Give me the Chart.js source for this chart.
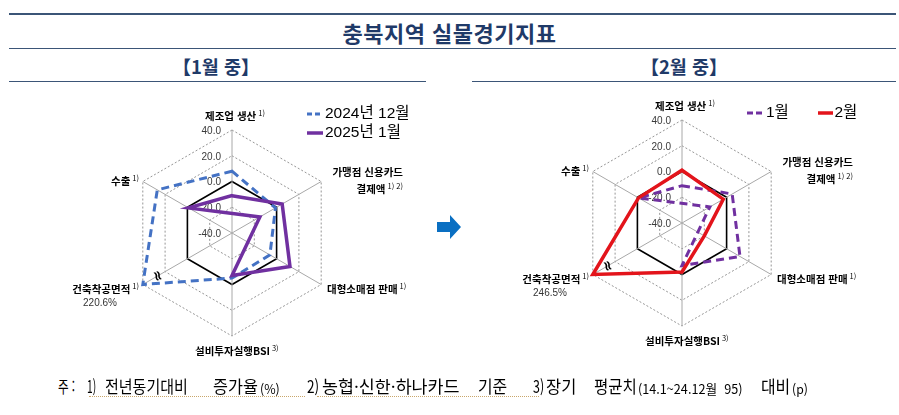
<!DOCTYPE html>
<html lang="ko">
<head>
  <meta charset="UTF-8">
  <title>충북지역 실물경기지표</title>
  <script src="https://cdn.jsdelivr.net/npm/chart.js"></script>
  <style>
    body { margin: 0; background: #fff; }
    .page {
      position: relative;
      width: 899px;
      height: 415px;
      overflow: hidden;
      font-family: 'Noto Sans CJK KR', 'Noto Sans', sans-serif;
      color: #000;
    }
    .rule { position: absolute; height: 0; border-top: 1.5px solid #3b5577; }
    .title {
      position: absolute; left: 0; width: 899px; top: 17px;
      text-align: center; font-size: 22px; font-weight: 700;
      color: #1f3a68; line-height: 30px; letter-spacing: 0.5px;
    }
    .sub {
      position: absolute; top: 53px; font-size: 18.5px; font-weight: 700;
      color: #1f3a68; line-height: 26px; transform: translateX(-50%);
      white-space: nowrap;
    }
    canvas { position: absolute; }
    .lbl {
      position: absolute; font-size: 10.5px; font-weight: 700;
      line-height: 17px; white-space: nowrap; z-index: 2;
    }
    .lbl.right { text-align: right; }
    .lbl sup { font-size: 7.5px; font-weight: 400; vertical-align: 4px; line-height: 0; margin-left: 2px; }
    .big {
      position: absolute; font-size: 10px; line-height: 14px; color: #333;
      font-family: 'Liberation Sans', sans-serif; transform: translateX(-50%); z-index: 2;
    }
    .legend {
      position: absolute; font-family: 'Liberation Sans', 'Noto Sans CJK KR', sans-serif;
      font-size: 15.5px; line-height: 19px; white-space: nowrap; z-index: 2;
    }
    .legend svg { vertical-align: middle; margin-right: 2px; }
    .arrow { position: absolute; left: 436px; top: 214px; }
    .foot {
      position: absolute; top: 374px; font-size: 17px; line-height: 24px;
      white-space: pre; transform-origin: left center;
    }
    .foot.small { font-size: 13px; top: 377px; }
    .uline { position: absolute; top: 396px; height: 0; border-top: 1.5px dotted #c9a66b; }
  </style>
</head>
<body>
  <div class="page" id="page">
    <div class="rule" style="left:9px; width:887px; top:13px; border-top-width:2.5px;"></div>
    <div class="title">충북지역 실물경기지표</div>
    <div class="rule" style="left:9px; width:887px; top:48px;"></div>
    <div class="sub" style="left:216px;">【1월 중】</div>
    <div class="sub" style="left:684px;">【2월 중】</div>
    <div class="rule" style="left:9px; width:417px; top:81px;"></div>
    <div class="rule" style="left:472px; width:424px; top:81px;"></div>

    <canvas id="janChart" width="300" height="300" style="left:82px; top:83px;"></canvas>
    <canvas id="febChart" width="300" height="300" style="left:532px; top:73px;"></canvas>

    <!-- legends -->
    <div class="legend" style="left:307px; top:103px;">
      <svg width="16" height="4"><line x1="0" y1="2" x2="16" y2="2" stroke="#4472C4" stroke-width="3" stroke-dasharray="5,3"/></svg>2024년 12월<br>
      <svg width="16" height="4"><line x1="0" y1="2" x2="16" y2="2" stroke="#7030A0" stroke-width="3.5"/></svg>2025년 1월
    </div>
    <div class="legend" style="left:747px; top:102px;">
      <svg width="17" height="4"><line x1="0" y1="2" x2="17" y2="2" stroke="#7030A0" stroke-width="3" stroke-dasharray="6,3"/></svg>1월
      <span style="display:inline-block; width:20px;"></span>
      <svg width="15" height="4"><line x1="0" y1="2" x2="15" y2="2" stroke="#E3141B" stroke-width="3.5"/></svg>2월
    </div>

    <svg class="arrow" width="26" height="26" viewBox="0 0 26 26">
      <polygon points="1,8 14,8 14,1 25,13 14,25 14,18 1,18" fill="#0A6FC2"/>
    </svg>

    <div id="foot"></div>
  </div>

  <script>
    // axes, clockwise from the top
    const categories = ['제조업 생산', ['가맹점 신용카드', '결제액'], '대형소매점 판매', '설비투자실행BSI', '건축착공면적', '수출'];
    const notes = ['1)', '1) 2)', '1)', '3)', '1)', '1)'];
    const tickValues = [40, 20, 0, -20, -40];
    const axisMin = -40;
    const axisMax = 40;

    // values (%, BSI is p)
    const dec2024 = [8, -1, -6, -5, 220.6, 27];
    const jan2025 = [-11, 5, 12, -7, -65, -1];
    const feb2025 = [1, -3, -20, -2, 246.5, -1];

    const overScaleIndex = 4; // 건축착공면적 runs off the scale, pinned to the rim

    const pinToRim = arr => arr.map(v => Math.min(v, axisMax));

    // label offsets from the chart centre
    const labelSpots = [
      { dx: -27, dy: -118, side: 'left' },
      { dx: 171, dy: -62, side: 'right' },
      { dx: 95, dy: 55, side: 'left' },
      { dx: -37, dy: 117, side: 'left' },
      { dx: -93, dy: 55, side: 'right' },
      { dx: -93, dy: -53, side: 'right' }
    ];

    const page = document.getElementById('page');

    const addLabels = (cx, cy, overValue) => {
      categories.forEach((cat, i) => {
        const spot = labelSpots[i];
        const el = document.createElement('div');
        el.className = 'lbl' + (spot.side === 'right' ? ' right' : '');
        const lines = Array.isArray(cat) ? cat : [cat];
        el.innerHTML = lines.map((l, k) => k === lines.length - 1 ? l + '<sup>' + notes[i] + '</sup>' : l).join('<br>');
        el.style.top = (cy + spot.dy - 8.5) + 'px';
        if (spot.side === 'right') {
          el.style.right = (899 - (cx + spot.dx)) + 'px';
        } else {
          el.style.left = (cx + spot.dx) + 'px';
        }
        page.appendChild(el);
      });
      const big = document.createElement('div');
      big.className = 'big';
      big.textContent = overValue.toFixed(1) + '%';
      big.style.left = (cx - 132) + 'px';
      big.style.top = (cy + 63) + 'px';
      page.appendChild(big);
    };

    // tick numbers sit left of the vertical axis, under the lines
    const tickLabelPlugin = {
      id: 'tickLabels',
      beforeDatasetsDraw(chart) {
        const r = chart.scales.r;
        const ctx = chart.ctx;
        ctx.save();
        ctx.font = '10px "Liberation Sans", sans-serif';
        ctx.fillStyle = '#3a3a3a';
        ctx.textAlign = 'right';
        ctx.textBaseline = 'middle';
        tickValues.forEach(v => {
          const y = r.yCenter - r.getDistanceFromCenterForValue(v);
          ctx.fillText(v.toFixed(1), r.xCenter - 11, y + 1);
        });
        ctx.restore();
      },
      afterDatasetsDraw(chart) {
        // axis break mark on the over-scale axis
        const r = chart.scales.r;
        const ctx = chart.ctx;
        const p = r.getPointPosition(overScaleIndex, r.drawingArea * 0.84);
        ctx.save();
        ctx.translate(p.x, p.y);
        ctx.rotate(Math.PI / 2.6);
        ctx.font = 'bold 14px "DejaVu Sans", sans-serif';
        ctx.fillStyle = '#000';
        ctx.textAlign = 'center';
        ctx.textBaseline = 'middle';
        ctx.fillText('≈', 0, 0);
        ctx.restore();
      }
    };

    const makeRadar = (id, datasets) => new Chart(document.getElementById(id), {
      type: 'radar',
      data: { labels: categories, datasets: datasets },
      options: {
        responsive: false,
        animation: false,
        layout: { padding: 47 },
        elements: {
          line: { tension: 0, fill: false },
          point: { radius: 0, hitRadius: 0, hoverRadius: 0 }
        },
        plugins: { legend: { display: false }, tooltip: { enabled: false } },
        scales: {
          r: {
            min: axisMin,
            max: axisMax,
            ticks: { stepSize: 20, display: false },
            pointLabels: { display: false },
            grid: {
              color: c => c.tick && c.tick.value === 0 ? '#000' : '#8a8a8a',
              lineWidth: c => c.tick && c.tick.value === 0 ? 1.6 : 0.9
            },
            border: { dash: c => c.tick && c.tick.value === 0 ? [] : [2, 2] },
            angleLines: { color: '#a8a8a8', lineWidth: 1 }
          }
        }
      },
      plugins: [tickLabelPlugin]
    });

    makeRadar('janChart', [
      { label: '2024년 12월', data: pinToRim(dec2024), borderColor: '#4472C4', borderWidth: 3, borderDash: [8, 5], order: 2, clip: false },
      { label: '2025년 1월', data: pinToRim(jan2025), borderColor: '#7030A0', borderWidth: 3.5, order: 1, clip: false }
    ]);
    makeRadar('febChart', [
      { label: '1월', data: pinToRim(jan2025), borderColor: '#7030A0', borderWidth: 3, borderDash: [8, 5], order: 2, clip: false },
      { label: '2월', data: pinToRim(feb2025), borderColor: '#E3141B', borderWidth: 3.5, order: 1, clip: false }
    ]);

    addLabels(232, 233, dec2024[overScaleIndex]);
    addLabels(682, 223, feb2025[overScaleIndex]);

    // footnote, word by word: start and end x of each piece
    const footParts = [
      { x: 58, w: 17, t: '주 :' },
      { x: 87, w: 9, t: '1)' },
      { x: 105, w: 83, t: '전년동기대비' },
      { x: 213, w: 45, t: '증가율' },
      { x: 260, w: 20, t: '(%)', small: true },
      { x: 307, w: 12, t: '2)' },
      { x: 322, w: 138, t: '농협·신한·하나카드' },
      { x: 478, w: 29, t: '기준' },
      { x: 533, w: 11, t: '3)' },
      { x: 546, w: 30, t: '장기' },
      { x: 594, w: 43, t: '평균치' },
      { x: 638, w: 104, t: '(14.1~24.12월  95)', small: true },
      { x: 761, w: 29, t: '대비' },
      { x: 792, w: 16, t: '(p)', small: true }
    ];
    const foot = document.getElementById('foot');
    footParts.forEach(part => {
      const s = document.createElement('div');
      s.className = 'foot' + (part.small ? ' small' : '');
      s.style.left = part.x + 'px';
      s.textContent = part.t;
      foot.appendChild(s);
      const natural = s.offsetWidth;
      if (natural > 0) s.style.transform = 'scaleX(' + (part.w / natural).toFixed(3) + ')';
    });
    [[89, 305], [317, 539]].forEach(([a, b]) => {
      const u = document.createElement('div');
      u.className = 'uline';
      u.style.left = a + 'px';
      u.style.width = (b - a) + 'px';
      foot.appendChild(u);
    });
  </script>
</body>
</html>
